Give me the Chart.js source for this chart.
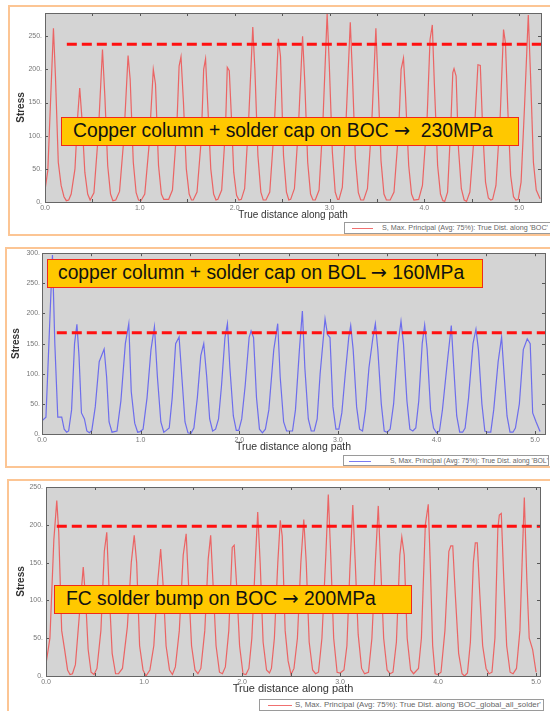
<!DOCTYPE html>
<html>
<head>
<meta charset="utf-8">
<script src="https://cdn.jsdelivr.net/npm/chart.js@4"></script>
<style>
body { margin: 0; width: 550px; height: 711px; overflow: hidden; position: relative; background: #fff; font-family: "Liberation Sans", Arial, sans-serif; }
.frame { position: absolute; border: 2px solid #fcc594; box-sizing: border-box; }
canvas { position: absolute; left: 0; }
.note { position: absolute; background: #ffc800; border: 1.5px solid #f02a1a; box-sizing: border-box; font-size: 19.3px; color: #111; white-space: pre; line-height: 26px; }
.note i { font-style: normal; font-family: "DejaVu Sans"; }
.key { position: absolute; background: #fff; border: 1px solid #9a9a9a; box-sizing: border-box; color: #666; white-space: pre; }
.key span { position: absolute; top: 5px; height: 0; border-top: 1px solid; }
.key b { position: absolute; font-weight: normal; top: 0; }
</style>
</head>
<body>
<div class="frame" style="left:8px;top:5px;width:546px;height:231px"></div>
<div class="frame" style="left:5px;top:247px;width:549px;height:221px"></div>
<div class="frame" style="left:7px;top:479px;width:547px;height:240px"></div>

<canvas id="boc-copper" width="550" height="231" style="top:5px"></canvas>
<canvas id="bol-copper" width="550" height="221" style="top:247px"></canvas>
<canvas id="boc-bump" width="550" height="232" style="top:479px"></canvas>

<div class="note" style="left:61px;top:117px;width:458px;height:29px;padding-left:11px">Copper column + solder cap on BOC <i>→</i>  230MPa</div>
<div class="note" style="left:47px;top:259px;width:436px;height:29px;padding-left:10px">copper column + solder cap on BOL <i>→</i> 160MPa</div>
<div class="note" style="left:54px;top:585px;width:358px;height:29px;padding-left:11px">FC solder bump on BOC <i>→</i> 200MPa</div>

<div class="key" style="left:344px;top:222px;width:212px;height:12px;font-size:7.2px;line-height:10px"><span style="left:7px;width:21px;color:#f07070"></span><b style="left:37px">S, Max. Principal (Avg: 75%): True Dist. along 'BOC'</b></div>
<div class="key" style="left:343px;top:455px;width:206px;height:11px;font-size:6.9px;line-height:9px"><span style="left:5px;width:22px;color:#7a7af0"></span><b style="left:46px">S, Max. Principal (Avg: 75%): True Dist. along 'BOL'</b></div>
<div class="key" style="left:259px;top:699px;width:285px;height:12px;font-size:7.9px;line-height:10px"><span style="left:8px;width:24px;color:#f07070"></span><b style="left:35px">S, Max. Principal (Avg: 75%): True Dist. along 'BOC_global_all_solder'</b></div>

<script>
// Copper column + solder cap on BOC
const distance1 = [0, 0.03, 0.089, 0.11, 0.14, 0.17, 0.2, 0.225, 0.25, 0.276, 0.316, 0.345, 0.366, 0.39, 0.42, 0.45,
	0.476, 0.516, 0.561, 0.606, 0.631, 0.661, 0.691, 0.716, 0.746, 0.786, 0.831, 0.876, 0.898, 0.931, 0.961, 0.986,
	1.012, 1.052, 1.097, 1.142, 1.165, 1.197, 1.227, 1.252, 1.304, 1.344, 1.389, 1.414, 1.434, 1.46, 1.49, 1.52, 1.545,
	1.563, 1.603, 1.648, 1.673, 1.693, 1.715, 1.748, 1.778, 1.803, 1.823, 1.863, 1.903, 1.922, 1.943, 1.965, 1.99, 2.02, 2.045,
	2.07, 2.105, 2.146, 2.191, 2.213, 2.245, 2.276, 2.301, 2.33, 2.37, 2.416, 2.461, 2.483, 2.515, 2.546, 2.571,
	2.59, 2.63, 2.671, 2.716, 2.738, 2.77, 2.8, 2.825, 2.85, 2.89, 2.93, 2.975, 2.997, 3.03, 3.06, 3.085,
	3.1, 3.135, 3.175, 3.219, 3.241, 3.273, 3.304, 3.329, 3.36, 3.4, 3.444, 3.489, 3.51, 3.543, 3.574, 3.6,
	3.64, 3.68, 3.73, 3.755, 3.78, 3.8, 3.835, 3.865, 3.89, 3.94, 3.98, 4.03, 4.06, 4.084, 4.105, 4.14, 4.17, 4.195,
	4.215, 4.245, 4.28, 4.3, 4.313, 4.335, 4.36, 4.39, 4.42, 4.445, 4.48, 4.525, 4.565, 4.59, 4.615, 4.645, 4.675, 4.7,
	4.72, 4.755, 4.8, 4.835, 4.855, 4.88, 4.91, 4.94, 4.965, 4.99, 5.02, 5.055, 5.096, 5.12, 5.15, 5.18, 5.22];
const stress1 = [18, 48, 262, 190, 60, 25, 8, 2, 3, 12, 50, 130, 172, 125, 45, 12,
	3, 14, 100, 230, 160, 55, 12, 2, 3, 16, 95, 221, 185, 60, 14, 3,
	2, 12, 85, 200, 178, 55, 12, 4, 4, 18, 110, 205, 219, 150, 50, 12, 3,
	3, 15, 95, 200, 216, 150, 50, 12, 3, 4, 18, 110, 203, 198, 130, 45, 10, 3,
	4, 20, 120, 264, 200, 70, 15, 3, 3, 15, 110, 246, 220, 70, 15, 3,
	4, 20, 110, 250, 185, 60, 12, 3, 3, 18, 120, 284, 210, 75, 15, 4,
	4, 22, 125, 271, 195, 65, 14, 3, 3, 20, 115, 262, 185, 62, 12, 3,
	3, 15, 110, 200, 217, 165, 55, 12, 3, 4, 25, 130, 245, 267, 180, 55, 12, 2,
	1, 15, 120, 195, 201, 190, 80, 20, 3, 1, 15, 100, 207, 206, 110, 30, 6, 3,
	4, 25, 130, 260, 240, 140, 40, 8, 3, 4, 30, 140, 282, 190, 60, 18, 5];

// copper column + solder cap on BOL
const distance2 = [0, 0.04, 0.07, 0.106, 0.13, 0.16, 0.2, 0.225, 0.25, 0.27, 0.3, 0.33, 0.354, 0.375, 0.4, 0.43, 0.455, 0.48,
	0.505, 0.54, 0.58, 0.63, 0.655, 0.68, 0.71, 0.76, 0.8, 0.845, 0.88, 0.905, 0.94, 0.97, 0.995,
	1.025, 1.065, 1.105, 1.14, 1.17, 1.205, 1.235, 1.26, 1.29, 1.32, 1.355, 1.39, 1.42, 1.45, 1.48, 1.51,
	1.54, 1.575, 1.61, 1.64, 1.67, 1.7, 1.73, 1.76, 1.79, 1.82, 1.855, 1.88, 1.905, 1.94, 1.97, 1.995,
	2.025, 2.06, 2.1, 2.12, 2.145, 2.175, 2.205, 2.235, 2.265, 2.3, 2.35, 2.39, 2.415, 2.45, 2.48, 2.51,
	2.54, 2.57, 2.61, 2.64, 2.665, 2.7, 2.73, 2.76, 2.79, 2.82, 2.87, 2.895, 2.92, 2.95, 2.98, 3.01,
	3.04, 3.075, 3.11, 3.13, 3.155, 3.19, 3.22, 3.25, 3.28, 3.315, 3.355, 3.38, 3.405, 3.44, 3.47, 3.5,
	3.53, 3.565, 3.61, 3.64, 3.665, 3.7, 3.73, 3.76, 3.79, 3.82, 3.855, 3.88, 3.905, 3.94, 3.97, 4.0,
	4.03, 4.06, 4.11, 4.15, 4.175, 4.205, 4.235, 4.265, 4.29, 4.325, 4.37, 4.4, 4.425, 4.46, 4.49, 4.52,
	4.55, 4.58, 4.625, 4.66, 4.685, 4.715, 4.745, 4.775, 4.8, 4.84, 4.88, 4.92, 4.95, 4.975, 5.01, 5.05];
const stress2 = [22, 28, 150, 297, 150, 28, 28, 8, 3, 5, 40, 150, 182, 130, 35, 25, 5, 2,
	6, 45, 120, 141, 95, 20, 3, 5, 55, 150, 183, 70, 18, 3, 4,
	8, 60, 140, 178, 95, 20, 3, 6, 10, 60, 150, 161, 90, 20, 2, 1,
	10, 60, 130, 150, 95, 25, 5, 8, 25, 80, 160, 183, 110, 30, 6, 6,
	25, 80, 160, 171, 160, 60, 8, 2, 8, 40, 140, 183, 95, 20, 5, 5,
	5, 40, 140, 204, 110, 25, 5, 5, 25, 100, 191, 165, 160, 45, 8, 8,
	35, 100, 160, 180, 140, 45, 8, 5, 40, 110, 160, 183, 140, 50, 5, 3,
	8, 50, 150, 187, 150, 55, 8, 5, 10, 55, 150, 181, 140, 40, 10, 2,
	5, 40, 120, 180, 110, 30, 3, 3, 10, 60, 150, 174, 140, 50, 5, 3,
	3, 40, 120, 161, 100, 30, 3, 3, 10, 50, 140, 158, 150, 35, 20, 4];

// FC solder bump on BOC
const distance3 = [0, 0.04, 0.08, 0.11, 0.13, 0.16, 0.19, 0.22, 0.245, 0.27, 0.3, 0.34, 0.38, 0.405, 0.43, 0.46, 0.49,
	0.52, 0.56, 0.595, 0.62, 0.645, 0.675, 0.71, 0.74, 0.78, 0.83, 0.87, 0.9, 0.925, 0.955, 0.99, 1.02,
	1.06, 1.1, 1.14, 1.17, 1.195, 1.225, 1.26, 1.29, 1.32, 1.36, 1.4, 1.43, 1.455, 1.485, 1.52, 1.55,
	1.58, 1.62, 1.655, 1.68, 1.705, 1.735, 1.77, 1.8, 1.83, 1.865, 1.9, 1.92, 1.945, 1.975, 2.01, 2.04,
	2.07, 2.1, 2.135, 2.16, 2.185, 2.215, 2.25, 2.28, 2.3, 2.33, 2.365, 2.39, 2.41, 2.44, 2.47, 2.5,
	2.53, 2.565, 2.6, 2.63, 2.655, 2.685, 2.72, 2.75, 2.78, 2.815, 2.855, 2.88, 2.905, 2.935, 2.97, 3.0,
	3.04, 3.07, 3.1, 3.13, 3.155, 3.185, 3.22, 3.25, 3.29, 3.325, 3.36, 3.39, 3.415, 3.445, 3.48, 3.51,
	3.54, 3.575, 3.61, 3.63, 3.655, 3.685, 3.72, 3.75, 3.8, 3.83, 3.87, 3.9, 3.92, 3.945, 3.97, 4.0,
	4.03, 4.07, 4.11, 4.13, 4.15, 4.175, 4.21, 4.245, 4.27, 4.3, 4.33, 4.36, 4.38, 4.4, 4.425, 4.455, 4.49, 4.52,
	4.55, 4.58, 4.61, 4.625, 4.645, 4.67, 4.7, 4.735, 4.765, 4.8, 4.835, 4.86, 4.88, 4.905, 4.93, 4.965, 5.0];
const stress3 = [16, 50, 180, 232, 190, 60, 35, 8, 2, 3, 15, 80, 144, 100, 35, 5, 2,
	10, 60, 165, 190, 110, 30, 3, 3, 10, 65, 150, 186, 150, 40, 8, 0,
	8, 40, 125, 168, 120, 40, 8, 2, 12, 60, 160, 188, 120, 40, 8, 3,
	10, 60, 155, 186, 120, 40, 5, 3, 12, 60, 170, 173, 120, 40, 3, 2,
	10, 50, 150, 217, 150, 45, 8, 4, 10, 50, 150, 206, 185, 60, 20, 2,
	10, 50, 150, 207, 150, 45, 8, 3, 5, 50, 160, 240, 160, 50, 5, 4,
	8, 40, 140, 226, 150, 55, 10, 3, 5, 50, 150, 225, 145, 50, 8, 3,
	5, 45, 160, 184, 160, 50, 8, 3, 10, 50, 200, 227, 150, 40, 3, 2,
	5, 60, 165, 172, 172, 110, 30, 3, 0, 4, 45, 150, 176, 176, 110, 40, 10, 3,
	5, 50, 195, 213, 215, 130, 40, 5, 3, 10, 60, 160, 236, 130, 50, 35, 5];

// Dashed reference levels: [start distance, stress]
const level1 = [0.23, 238];
const level2 = [0.15, 168];
const level3 = [0.11, 198];

const yTickStep = 50;
const xTickStep = 0.5;

// gray plot area, frame and inward tick marks
const plotFrame = {
	id: "plotFrame",
	beforeDraw(chart) {
		const a = chart.chartArea, ctx = chart.ctx;
		ctx.save();
		ctx.fillStyle = "#d4d4d4";
		ctx.fillRect(a.left, a.top, a.right - a.left, a.bottom - a.top);
		ctx.restore();
	},
	afterDraw(chart) {
		const a = chart.chartArea, ctx = chart.ctx;
		ctx.save();
		ctx.strokeStyle = "#555";
		ctx.lineWidth = 1;
		ctx.beginPath();
		chart.scales.x.ticks.forEach(t => {
			const px = Math.round(chart.scales.x.getPixelForValue(t.value)) + 0.5;
			ctx.moveTo(px, a.bottom); ctx.lineTo(px, a.bottom - 3);
			ctx.moveTo(px, a.top); ctx.lineTo(px, a.top + 3);
		});
		chart.scales.y.ticks.forEach(t => {
			const py = Math.round(chart.scales.y.getPixelForValue(t.value)) + 0.5;
			ctx.moveTo(a.left, py); ctx.lineTo(a.left + 3, py);
			ctx.moveTo(a.right, py); ctx.lineTo(a.right - 3, py);
		});
		ctx.stroke();
		ctx.strokeStyle = "#666";
		ctx.strokeRect(Math.round(a.left) + 0.5, Math.round(a.top) + 0.5, Math.round(a.right - a.left), Math.round(a.bottom - a.top));
		ctx.restore();
	}
};

const drawStressChart = function(id, xs, ys, color, level, xMax, yMax, box) {
	const points = xs.map((x, i) => ({x: x, y: ys[i]}));
	new Chart(document.getElementById(id), {
		type: "line",
		data: {
			datasets: [
				{
					data: [{x: level[0], y: level[1]}, {x: xMax, y: level[1]}],
					borderColor: "#ff1010",
					borderWidth: 3,
					borderDash: [10, 5],
					pointRadius: 0
				},
				{
					data: points,
					borderColor: color,
					borderWidth: 1.2,
					pointRadius: 0,
					tension: 0
				}
			]
		},
		options: {
			responsive: false,
			animation: false,
			events: [],
			layout: {padding: {top: box.top, bottom: box.bottom, left: 0, right: box.right}},
			plugins: {legend: {display: false}, tooltip: {enabled: false}},
			scales: {
				x: {
					type: "linear",
					min: 0,
					max: xMax,
					afterFit: s => { s.height = box.xh; },
					grid: {display: false, drawTicks: false},
					border: {display: false},
					ticks: {
						stepSize: xTickStep,
						includeBounds: false,
						autoSkip: false,
						maxRotation: 0,
						padding: 2,
						color: "#777",
						font: {size: 7, family: "Liberation Sans"},
						callback: v => Math.abs(v - Math.round(v)) < 1e-6 ? v.toFixed(1) : ""
					},
					title: {
						display: true,
						text: "True distance along path",
						color: "#333",
						font: {size: box.xf, family: "Liberation Sans"},
						padding: {top: 0, bottom: 1}
					}
				},
				y: {
					min: 0,
					max: yMax,
					afterFit: s => { s.width = box.yw; },
					grid: {display: false, drawTicks: false},
					border: {display: false},
					ticks: {
						stepSize: yTickStep,
						includeBounds: false,
						padding: box.yp,
						color: "#777",
						font: {size: 7, family: "Liberation Sans"},
						callback: v => v % yTickStep === 0 ? v + "." : ""
					},
					title: {
						display: true,
						text: "Stress",
						color: "#333",
						font: {size: 10, weight: "bold", family: "Liberation Sans"},
						padding: {top: box.tp, bottom: 0}
					}
				}
			}
		},
		plugins: [plotFrame]
	});
};

drawStressChart("boc-copper", distance1, stress1, "rgba(238, 80, 80, 0.85)", level1, 5.23, 285,
	{top: 8, bottom: 14, right: 9, xh: 20, xf: 10, yw: 45, yp: 3, tp: 15});
drawStressChart("bol-copper", distance2, stress2, "rgba(90, 90, 240, 0.85)", level2, 5.1, 300,
	{top: 6, bottom: 14, right: 5, xh: 20, xf: 10.5, yw: 42, yp: 2, tp: 10});
drawStressChart("boc-bump", distance3, stress3, "rgba(238, 80, 80, 0.85)", level3, 5.04, 250,
	{top: 8, bottom: 14, right: 10, xh: 21, xf: 11, yw: 46, yp: 3, tp: 15});
</script>
</body>
</html>
